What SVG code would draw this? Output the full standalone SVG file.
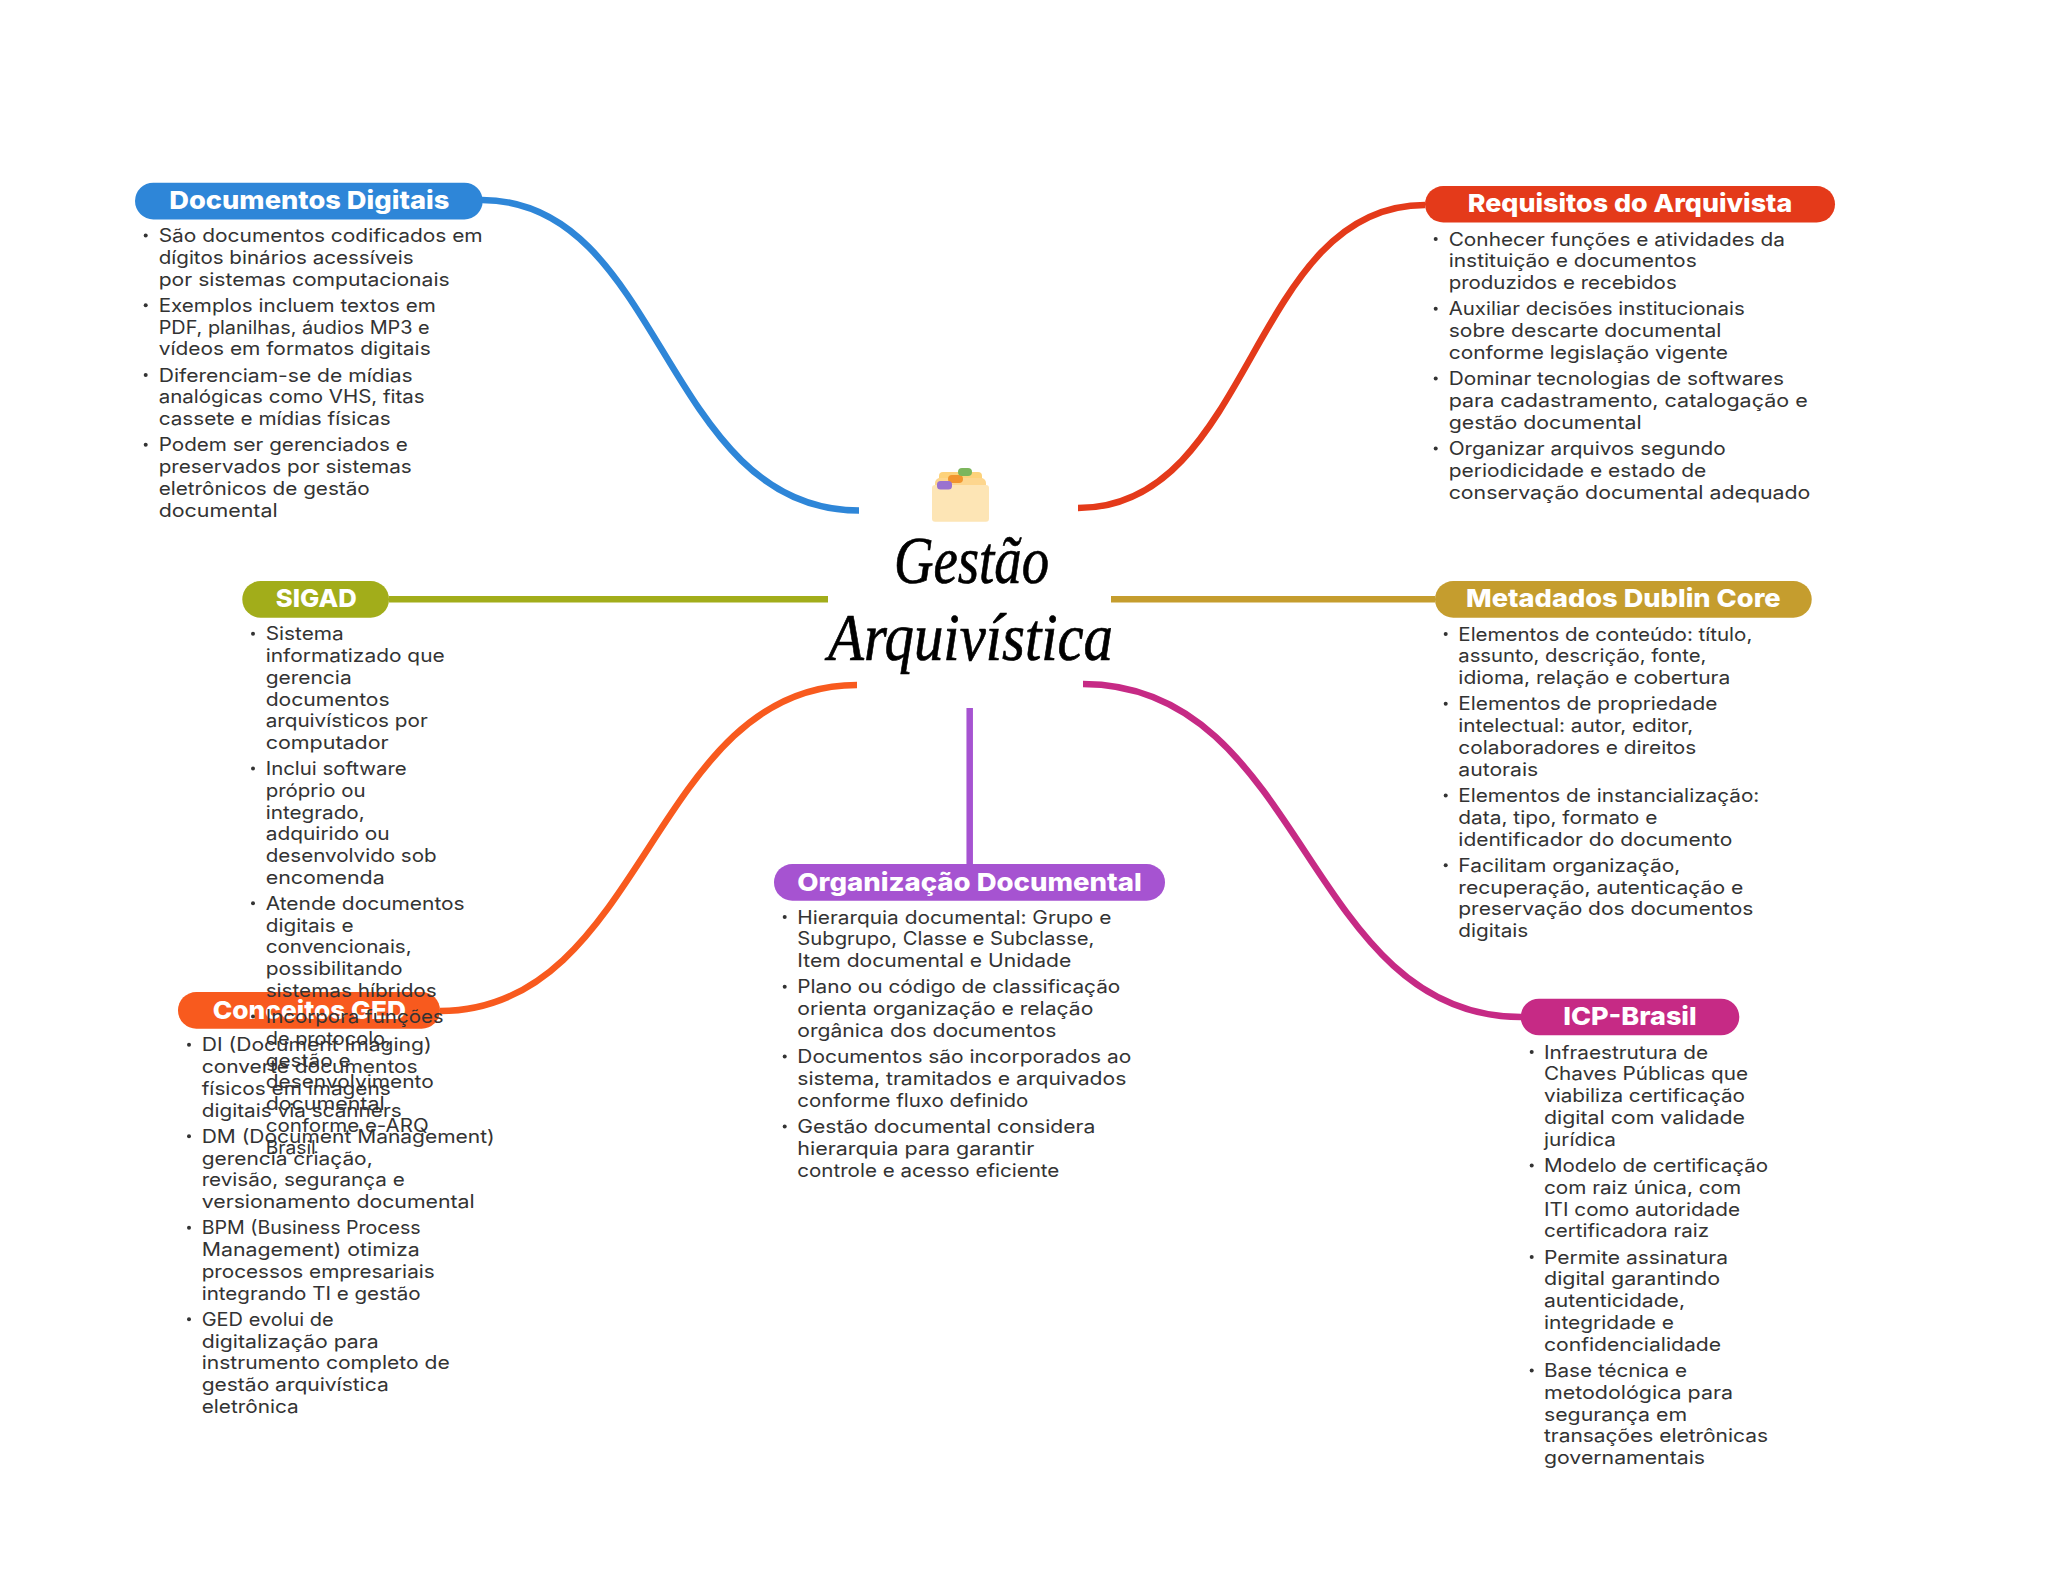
<svg xmlns="http://www.w3.org/2000/svg" width="2048" height="1569" viewBox="0 0 2048 1569">
<defs><filter id="soft" x="-10%" y="-10%" width="120%" height="120%"><feGaussianBlur stdDeviation="0.5"/></filter></defs>
<style>
.t{font-family:"Inter","Open Sans",sans-serif;font-size:18.4px;fill:#333;transform:translate(-1px,-0.5px)}
.h{font-family:"Inter","Open Sans",sans-serif;font-size:25px;font-weight:800;fill:#fff}
.b{fill:#333}
.c{fill:none;stroke-width:6.5}
.title{font-family:"Liberation Serif",serif;font-style:italic;font-size:68px;fill:#000;stroke:#000;stroke-width:0.7}
</style>
<rect width="2048" height="1569" fill="#fff"/>
<g id="connectors">
<path class="c" stroke="#2e86d8" d="M482,200 C664,200 663,510.500 859,510.500"/>
<path class="c" stroke="#e43a1a" d="M1078,508 C1254,508 1249,205 1425,205"/>
<path class="c" stroke="#a2ad1a" d="M389,599.300 H828"/>
<path class="c" stroke="#c59d2e" d="M1111,599.300 H1435"/>
<path class="c" stroke="#f85a1e" d="M857,685 C651,685 646,1011 440,1011"/>
<path class="c" stroke="#c62a85" d="M1083,684 C1305,684 1305,1017 1521,1017"/>
<path class="c" stroke="#a653d1" d="M969.700,708 V864"/>
</g>
<g id="center">
<g filter="url(#soft)">
<rect x="939" y="472" width="43" height="18" rx="4" fill="#fdd27a"/>
<rect x="935" y="478" width="51" height="12" rx="5" fill="#fdd68e"/>
<rect x="932" y="485" width="57" height="36.700" rx="3" fill="#fde5b5"/>
<rect x="948" y="475" width="15" height="8" rx="4" fill="#f2952d"/>
<rect x="958" y="468" width="14" height="8" rx="4" fill="#7cb65d"/>
<rect x="937" y="481" width="15" height="8.500" rx="3.500" fill="#9a72cf"/>
</g>
<text class="title" x="894" y="583" textLength="155" lengthAdjust="spacingAndGlyphs">Gestão</text>
<text class="title" x="828" y="660" textLength="285" lengthAdjust="spacingAndGlyphs">Arquivística</text>
</g>
<g id="documentos-digitais">
<rect x="135" y="182.700" width="347.700" height="36.700" rx="18.300" fill="#2e86d8"/>
<text class="h" x="169.300" y="209.300" textLength="280" lengthAdjust="spacingAndGlyphs">Documentos Digitais</text>
<circle class="b" cx="145.700" cy="235.500" r="2"/><circle class="b" cx="145.700" cy="305.300" r="2"/><circle class="b" cx="145.700" cy="375" r="2"/><circle class="b" cx="145.700" cy="444.800" r="2"/>
<text class="t" x="159.700" y="242.500" textLength="324" lengthAdjust="spacingAndGlyphs">São documentos codificados em</text>
<text class="t" x="159.700" y="264.300" textLength="255" lengthAdjust="spacingAndGlyphs">dígitos binários acessíveis</text>
<text class="t" x="159.700" y="286" textLength="291" lengthAdjust="spacingAndGlyphs">por sistemas computacionais</text>
<text class="t" x="159.700" y="312.300" textLength="277" lengthAdjust="spacingAndGlyphs">Exemplos incluem textos em</text>
<text class="t" x="159.700" y="334" textLength="271" lengthAdjust="spacingAndGlyphs">PDF, planilhas, áudios MP3 e</text>
<text class="t" x="159.700" y="355.800" textLength="272" lengthAdjust="spacingAndGlyphs">vídeos em formatos digitais</text>
<text class="t" x="159.700" y="382" textLength="254" lengthAdjust="spacingAndGlyphs">Diferenciam-se de mídias</text>
<text class="t" x="159.700" y="403.800" textLength="266" lengthAdjust="spacingAndGlyphs">analógicas como VHS, fitas</text>
<text class="t" x="159.700" y="425.500" textLength="232" lengthAdjust="spacingAndGlyphs">cassete e mídias físicas</text>
<text class="t" x="159.700" y="451.800" textLength="249" lengthAdjust="spacingAndGlyphs">Podem ser gerenciados e</text>
<text class="t" x="159.700" y="473.500" textLength="253" lengthAdjust="spacingAndGlyphs">preservados por sistemas</text>
<text class="t" x="159.700" y="495.300" textLength="211" lengthAdjust="spacingAndGlyphs">eletrônicos de gestão</text>
<text class="t" x="159.700" y="517" textLength="119" lengthAdjust="spacingAndGlyphs">documental</text>
</g>
<g id="requisitos-do-arquivista">
<rect x="1425" y="186" width="410" height="36.500" rx="18.300" fill="#e43a1a"/>
<text class="h" x="1467.700" y="212.300" textLength="324.600" lengthAdjust="spacingAndGlyphs">Requisitos do Arquivista</text>
<circle class="b" cx="1435.700" cy="239" r="2"/><circle class="b" cx="1435.700" cy="308.800" r="2"/><circle class="b" cx="1435.700" cy="378.600" r="2"/><circle class="b" cx="1435.700" cy="448.400" r="2"/>
<text class="t" x="1449.700" y="246" textLength="336.300" lengthAdjust="spacingAndGlyphs">Conhecer funções e atividades da</text>
<text class="t" x="1449.700" y="267.800" textLength="248" lengthAdjust="spacingAndGlyphs">instituição e documentos</text>
<text class="t" x="1449.700" y="289.600" textLength="228" lengthAdjust="spacingAndGlyphs">produzidos e recebidos</text>
<text class="t" x="1449.700" y="315.800" textLength="296" lengthAdjust="spacingAndGlyphs">Auxiliar decisões institucionais</text>
<text class="t" x="1449.700" y="337.600" textLength="272.600" lengthAdjust="spacingAndGlyphs">sobre descarte documental</text>
<text class="t" x="1449.700" y="359.400" textLength="279.300" lengthAdjust="spacingAndGlyphs">conforme legislação vigente</text>
<text class="t" x="1449.700" y="385.600" textLength="335.300" lengthAdjust="spacingAndGlyphs">Dominar tecnologias de softwares</text>
<text class="t" x="1449.700" y="407.400" textLength="359" lengthAdjust="spacingAndGlyphs">para cadastramento, catalogação e</text>
<text class="t" x="1449.700" y="429.200" textLength="193" lengthAdjust="spacingAndGlyphs">gestão documental</text>
<text class="t" x="1449.700" y="455.400" textLength="277" lengthAdjust="spacingAndGlyphs">Organizar arquivos segundo</text>
<text class="t" x="1449.700" y="477.200" textLength="257.600" lengthAdjust="spacingAndGlyphs">periodicidade e estado de</text>
<text class="t" x="1449.700" y="499" textLength="361.600" lengthAdjust="spacingAndGlyphs">conservação documental adequado</text>
</g>
<g id="metadados-dublin-core">
<rect x="1435" y="581" width="376.700" height="36.700" rx="18.300" fill="#c59d2e"/>
<text class="h" x="1466" y="607.300" textLength="314.700" lengthAdjust="spacingAndGlyphs">Metadados Dublin Core</text>
<circle class="b" cx="1445.700" cy="634" r="2"/><circle class="b" cx="1445.700" cy="703.800" r="2"/><circle class="b" cx="1445.700" cy="795.400" r="2"/><circle class="b" cx="1445.700" cy="865.200" r="2"/>
<text class="t" x="1459.300" y="641" textLength="294" lengthAdjust="spacingAndGlyphs">Elementos de conteúdo: título,</text>
<text class="t" x="1459.300" y="662.800" textLength="248" lengthAdjust="spacingAndGlyphs">assunto, descrição, fonte,</text>
<text class="t" x="1459.300" y="684.600" textLength="272" lengthAdjust="spacingAndGlyphs">idioma, relação e cobertura</text>
<text class="t" x="1459.300" y="710.800" textLength="259" lengthAdjust="spacingAndGlyphs">Elementos de propriedade</text>
<text class="t" x="1459.300" y="732.600" textLength="235" lengthAdjust="spacingAndGlyphs">intelectual: autor, editor,</text>
<text class="t" x="1459.300" y="754.400" textLength="238" lengthAdjust="spacingAndGlyphs">colaboradores e direitos</text>
<text class="t" x="1459.300" y="776.200" textLength="80" lengthAdjust="spacingAndGlyphs">autorais</text>
<text class="t" x="1459.300" y="802.400" textLength="301" lengthAdjust="spacingAndGlyphs">Elementos de instancialização:</text>
<text class="t" x="1459.300" y="824.200" textLength="199" lengthAdjust="spacingAndGlyphs">data, tipo, formato e</text>
<text class="t" x="1459.300" y="846" textLength="274" lengthAdjust="spacingAndGlyphs">identificador do documento</text>
<text class="t" x="1459.300" y="872.200" textLength="222" lengthAdjust="spacingAndGlyphs">Facilitam organização,</text>
<text class="t" x="1459.300" y="894" textLength="285" lengthAdjust="spacingAndGlyphs">recuperação, autenticação e</text>
<text class="t" x="1459.300" y="915.800" textLength="295" lengthAdjust="spacingAndGlyphs">preservação dos documentos</text>
<text class="t" x="1459.300" y="937.600" textLength="70" lengthAdjust="spacingAndGlyphs">digitais</text>
</g>
<g id="icp-brasil">
<rect x="1520.700" y="998.700" width="218.600" height="36.600" rx="18.300" fill="#c62a85"/>
<text class="h" x="1563.300" y="1025.300" textLength="133.400" lengthAdjust="spacingAndGlyphs">ICP-Brasil</text>
<circle class="b" cx="1531.700" cy="1052" r="2"/><circle class="b" cx="1531.700" cy="1165.400" r="2"/><circle class="b" cx="1531.700" cy="1257" r="2"/><circle class="b" cx="1531.700" cy="1370.400" r="2"/>
<text class="t" x="1545" y="1059" textLength="164" lengthAdjust="spacingAndGlyphs">Infraestrutura de</text>
<text class="t" x="1545" y="1080.800" textLength="204" lengthAdjust="spacingAndGlyphs">Chaves Públicas que</text>
<text class="t" x="1545" y="1102.600" textLength="201" lengthAdjust="spacingAndGlyphs">viabiliza certificação</text>
<text class="t" x="1545" y="1124.400" textLength="201" lengthAdjust="spacingAndGlyphs">digital com validade</text>
<text class="t" x="1545" y="1146.200" textLength="72" lengthAdjust="spacingAndGlyphs">jurídica</text>
<text class="t" x="1545" y="1172.400" textLength="224" lengthAdjust="spacingAndGlyphs">Modelo de certificação</text>
<text class="t" x="1545" y="1194.200" textLength="197" lengthAdjust="spacingAndGlyphs">com raiz única, com</text>
<text class="t" x="1545" y="1216" textLength="196" lengthAdjust="spacingAndGlyphs">ITI como autoridade</text>
<text class="t" x="1545" y="1237.800" textLength="165" lengthAdjust="spacingAndGlyphs">certificadora raiz</text>
<text class="t" x="1545" y="1264" textLength="184" lengthAdjust="spacingAndGlyphs">Permite assinatura</text>
<text class="t" x="1545" y="1285.800" textLength="176" lengthAdjust="spacingAndGlyphs">digital garantindo</text>
<text class="t" x="1545" y="1307.600" textLength="141" lengthAdjust="spacingAndGlyphs">autenticidade,</text>
<text class="t" x="1545" y="1329.400" textLength="130" lengthAdjust="spacingAndGlyphs">integridade e</text>
<text class="t" x="1545" y="1351.200" textLength="177" lengthAdjust="spacingAndGlyphs">confidencialidade</text>
<text class="t" x="1545" y="1377.400" textLength="143" lengthAdjust="spacingAndGlyphs">Base técnica e</text>
<text class="t" x="1545" y="1399.200" textLength="189" lengthAdjust="spacingAndGlyphs">metodológica para</text>
<text class="t" x="1545" y="1421" textLength="143" lengthAdjust="spacingAndGlyphs">segurança em</text>
<text class="t" x="1545" y="1442.800" textLength="224" lengthAdjust="spacingAndGlyphs">transações eletrônicas</text>
<text class="t" x="1545" y="1464.600" textLength="161" lengthAdjust="spacingAndGlyphs">governamentais</text>
</g>
<g id="organizacao-documental">
<rect x="774" y="864" width="391" height="36.700" rx="18.300" fill="#a653d1"/>
<text class="h" x="797.300" y="890.700" textLength="344.400" lengthAdjust="spacingAndGlyphs">Organização Documental</text>
<circle class="b" cx="784.700" cy="917" r="2"/><circle class="b" cx="784.700" cy="986.800" r="2"/><circle class="b" cx="784.700" cy="1056.600" r="2"/><circle class="b" cx="784.700" cy="1126.400" r="2"/>
<text class="t" x="798.300" y="924" textLength="314" lengthAdjust="spacingAndGlyphs">Hierarquia documental: Grupo e</text>
<text class="t" x="798.300" y="945.800" textLength="297" lengthAdjust="spacingAndGlyphs">Subgrupo, Classe e Subclasse,</text>
<text class="t" x="798.300" y="967.600" textLength="274" lengthAdjust="spacingAndGlyphs">Item documental e Unidade</text>
<text class="t" x="798.300" y="993.800" textLength="323" lengthAdjust="spacingAndGlyphs">Plano ou código de classificação</text>
<text class="t" x="798.300" y="1015.600" textLength="296" lengthAdjust="spacingAndGlyphs">orienta organização e relação</text>
<text class="t" x="798.300" y="1037.400" textLength="259" lengthAdjust="spacingAndGlyphs">orgânica dos documentos</text>
<text class="t" x="798.300" y="1063.600" textLength="334" lengthAdjust="spacingAndGlyphs">Documentos são incorporados ao</text>
<text class="t" x="798.300" y="1085.400" textLength="329" lengthAdjust="spacingAndGlyphs">sistema, tramitados e arquivados</text>
<text class="t" x="798.300" y="1107.200" textLength="231" lengthAdjust="spacingAndGlyphs">conforme fluxo definido</text>
<text class="t" x="798.300" y="1133.400" textLength="298" lengthAdjust="spacingAndGlyphs">Gestão documental considera</text>
<text class="t" x="798.300" y="1155.200" textLength="237" lengthAdjust="spacingAndGlyphs">hierarquia para garantir</text>
<text class="t" x="798.300" y="1177" textLength="262" lengthAdjust="spacingAndGlyphs">controle e acesso eficiente</text>
</g>
<g id="conceitos-ged">
<rect x="178" y="992" width="262" height="36.700" rx="18.300" fill="#f85a1e"/>
<text class="h" x="212.700" y="1018.700" textLength="193.300" lengthAdjust="spacingAndGlyphs">Conceitos GED</text>
<circle class="b" cx="189" cy="1044.700" r="2"/><circle class="b" cx="189" cy="1136.200" r="2"/><circle class="b" cx="189" cy="1227.700" r="2"/><circle class="b" cx="189" cy="1319.200" r="2"/>
<text class="t" x="202.700" y="1051.700" textLength="230" lengthAdjust="spacingAndGlyphs">DI (Document Imaging)</text>
<text class="t" x="202.700" y="1073.500" textLength="216" lengthAdjust="spacingAndGlyphs">converte documentos</text>
<text class="t" x="202.700" y="1095.200" textLength="189" lengthAdjust="spacingAndGlyphs">físicos em imagens</text>
<text class="t" x="202.700" y="1117" textLength="200" lengthAdjust="spacingAndGlyphs">digitais via scanners</text>
<text class="t" x="202.700" y="1143.200" textLength="293" lengthAdjust="spacingAndGlyphs">DM (Document Management)</text>
<text class="t" x="202.700" y="1165" textLength="171" lengthAdjust="spacingAndGlyphs">gerencia criação,</text>
<text class="t" x="202.700" y="1186.700" textLength="203" lengthAdjust="spacingAndGlyphs">revisão, segurança e</text>
<text class="t" x="202.700" y="1208.500" textLength="273" lengthAdjust="spacingAndGlyphs">versionamento documental</text>
<text class="t" x="202.700" y="1234.700" textLength="219" lengthAdjust="spacingAndGlyphs">BPM (Business Process</text>
<text class="t" x="202.700" y="1256.500" textLength="218" lengthAdjust="spacingAndGlyphs">Management) otimiza</text>
<text class="t" x="202.700" y="1278.200" textLength="233" lengthAdjust="spacingAndGlyphs">processos empresariais</text>
<text class="t" x="202.700" y="1300" textLength="219" lengthAdjust="spacingAndGlyphs">integrando TI e gestão</text>
<text class="t" x="202.700" y="1326.200" textLength="132" lengthAdjust="spacingAndGlyphs">GED evolui de</text>
<text class="t" x="202.700" y="1348" textLength="177" lengthAdjust="spacingAndGlyphs">digitalização para</text>
<text class="t" x="202.700" y="1369.700" textLength="248" lengthAdjust="spacingAndGlyphs">instrumento completo de</text>
<text class="t" x="202.700" y="1391.500" textLength="187" lengthAdjust="spacingAndGlyphs">gestão arquivística</text>
<text class="t" x="202.700" y="1413.200" textLength="97" lengthAdjust="spacingAndGlyphs">eletrônica</text>
</g>
<g id="sigad">
<rect x="242.300" y="581" width="146.700" height="36.700" rx="18.300" fill="#a2ad1a"/>
<text class="h" x="275.700" y="607.300" textLength="81" lengthAdjust="spacingAndGlyphs">SIGAD</text>
<circle class="b" cx="253" cy="633.700" r="2"/><circle class="b" cx="253" cy="768.500" r="2"/><circle class="b" cx="253" cy="903.300" r="2"/><circle class="b" cx="253" cy="1016.500" r="2"/>
<text class="t" x="266.700" y="640.700" textLength="78" lengthAdjust="spacingAndGlyphs">Sistema</text>
<text class="t" x="266.700" y="662.500" textLength="179" lengthAdjust="spacingAndGlyphs">informatizado que</text>
<text class="t" x="266.700" y="684.200" textLength="86" lengthAdjust="spacingAndGlyphs">gerencia</text>
<text class="t" x="266.700" y="706" textLength="124" lengthAdjust="spacingAndGlyphs">documentos</text>
<text class="t" x="266.700" y="727.700" textLength="162" lengthAdjust="spacingAndGlyphs">arquivísticos por</text>
<text class="t" x="266.700" y="749.400" textLength="123" lengthAdjust="spacingAndGlyphs">computador</text>
<text class="t" x="266.700" y="775.500" textLength="141" lengthAdjust="spacingAndGlyphs">Inclui software</text>
<text class="t" x="266.700" y="797.300" textLength="100" lengthAdjust="spacingAndGlyphs">próprio ou</text>
<text class="t" x="266.700" y="819" textLength="99" lengthAdjust="spacingAndGlyphs">integrado,</text>
<text class="t" x="266.700" y="840.800" textLength="124" lengthAdjust="spacingAndGlyphs">adquirido ou</text>
<text class="t" x="266.700" y="862.500" textLength="171" lengthAdjust="spacingAndGlyphs">desenvolvido sob</text>
<text class="t" x="266.700" y="884.200" textLength="119" lengthAdjust="spacingAndGlyphs">encomenda</text>
<text class="t" x="266.700" y="910.300" textLength="199" lengthAdjust="spacingAndGlyphs">Atende documentos</text>
<text class="t" x="266.700" y="932" textLength="88" lengthAdjust="spacingAndGlyphs">digitais e</text>
<text class="t" x="266.700" y="953.800" textLength="146" lengthAdjust="spacingAndGlyphs">convencionais,</text>
<text class="t" x="266.700" y="975.500" textLength="137" lengthAdjust="spacingAndGlyphs">possibilitando</text>
<text class="t" x="266.700" y="997.300" textLength="171" lengthAdjust="spacingAndGlyphs">sistemas híbridos</text>
<text class="t" x="266.700" y="1023.500" textLength="178" lengthAdjust="spacingAndGlyphs">Incorpora funções</text>
<text class="t" x="266.700" y="1045.200" textLength="125" lengthAdjust="spacingAndGlyphs">de protocolo,</text>
<text class="t" x="266.700" y="1067" textLength="85" lengthAdjust="spacingAndGlyphs">gestão e</text>
<text class="t" x="266.700" y="1088.700" textLength="168" lengthAdjust="spacingAndGlyphs">desenvolvimento</text>
<text class="t" x="266.700" y="1110.500" textLength="119" lengthAdjust="spacingAndGlyphs">documental</text>
<text class="t" x="266.700" y="1132.200" textLength="163" lengthAdjust="spacingAndGlyphs">conforme e-ARQ</text>
<text class="t" x="266.700" y="1154" textLength="50" lengthAdjust="spacingAndGlyphs">Brasil</text>
</g>
</svg>
